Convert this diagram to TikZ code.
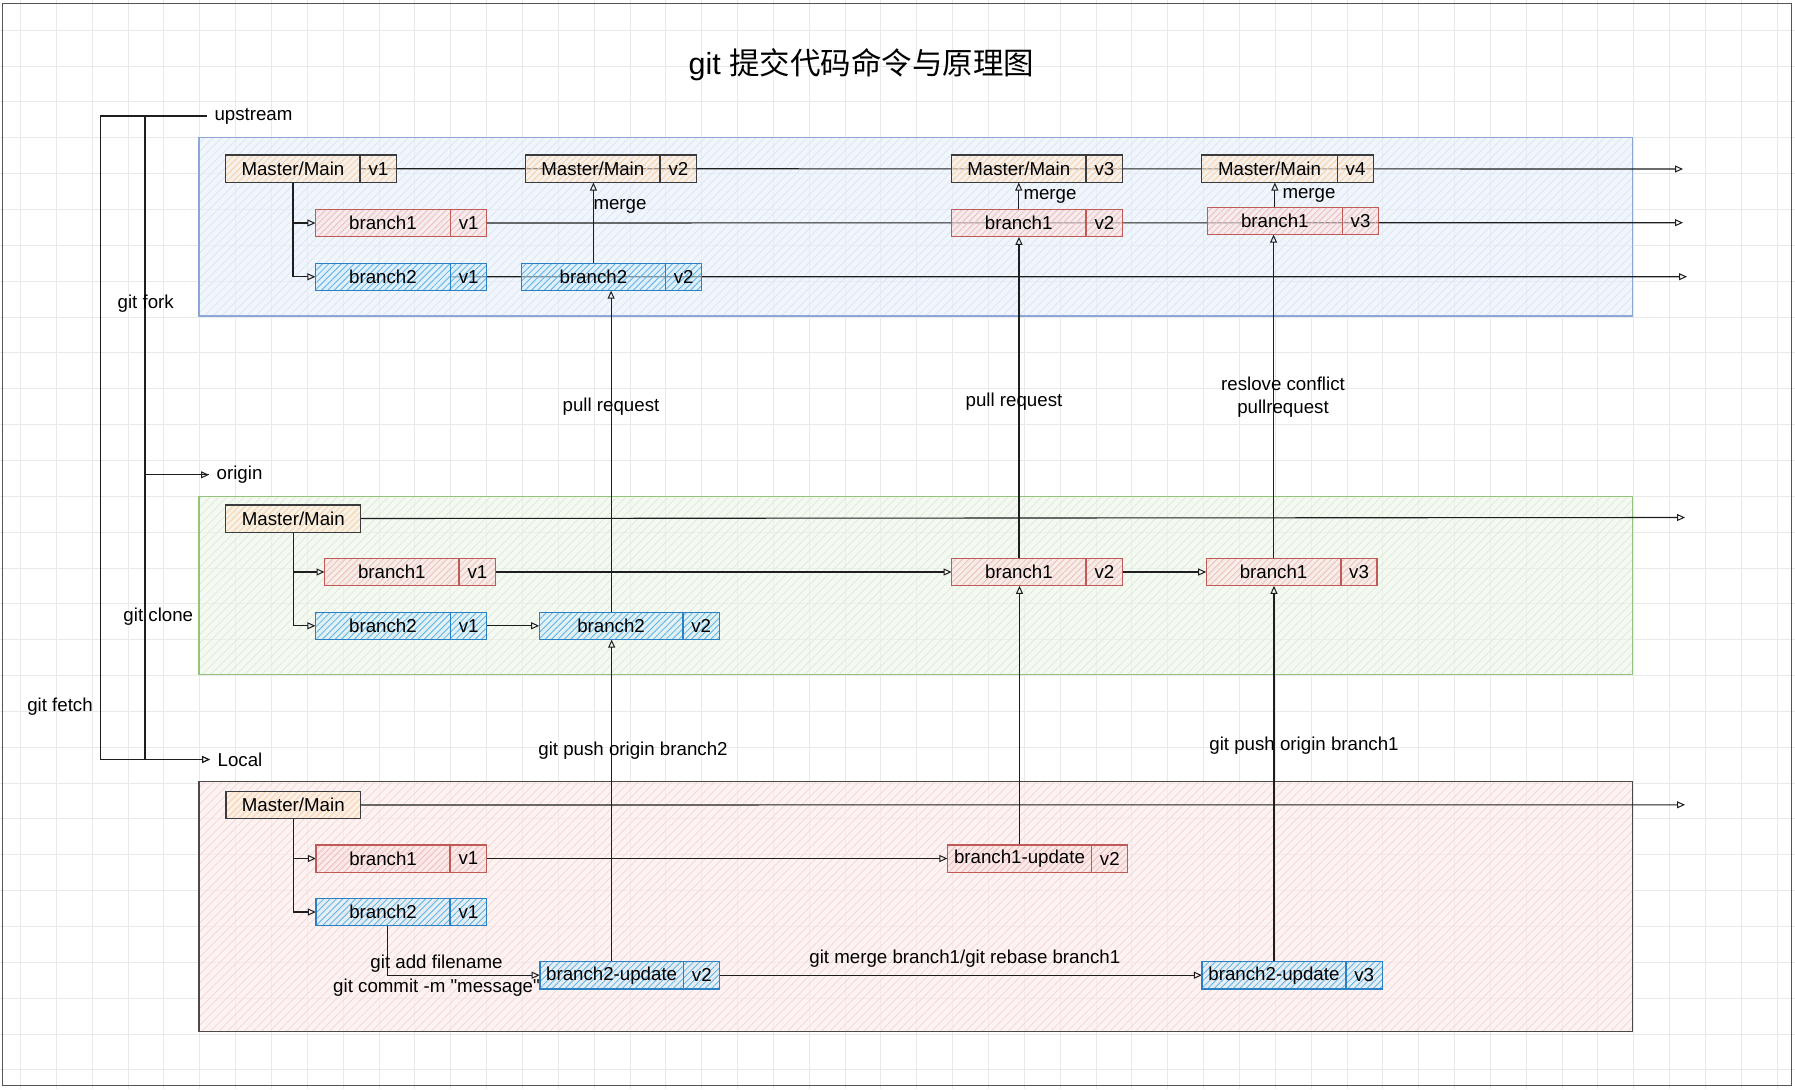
\documentclass[tikz,border=0pt]{standalone}
\usepackage{fontspec}
\setmainfont{Liberation Sans}
\newfontfamily\plainfont{Liberation Sans}
\newfontfamily\cjkfont{Noto Sans CJK SC}
\usetikzlibrary{arrows.meta,patterns.meta}
\newcommand\myfs{\fontsize{18.7}{23.3}\selectfont}
\definecolor{gridcol}{HTML}{E9E9E9}
\definecolor{edgecol}{HTML}{1E1E1E}
\definecolor{mmstroke}{HTML}{3A3B3F}
\definecolor{mmfill}{HTML}{FFF0E0}
\definecolor{mmhatch}{HTML}{F8D0A8}
\definecolor{bonestroke}{HTML}{BF5A56}
\definecolor{bonefill}{HTML}{FCE6E5}
\definecolor{bonehatch}{HTML}{F0BDBB}
\definecolor{btwostroke}{HTML}{2A80C2}
\definecolor{btwofill}{HTML}{D6EDFA}
\definecolor{btwohatch}{HTML}{5CB3E6}
\definecolor{upstroke}{HTML}{8CA7D6}
\definecolor{upfill}{HTML}{E8F0FC}
\definecolor{uphatch}{HTML}{D9E4F5}
\definecolor{orstroke}{HTML}{95C27C}
\definecolor{orfill}{HTML}{EDF5EA}
\definecolor{orhatch}{HTML}{DDE9D8}
\definecolor{lostroke}{HTML}{4A4A4A}
\definecolor{lofill}{HTML}{FDEBEB}
\definecolor{lohatch}{HTML}{F5D3D3}
\definecolor{outerstroke}{HTML}{555555}
\pgfdeclarelayer{bg}
\pgfdeclarelayer{edges}
\pgfsetlayers{bg,edges,main}
\tikzset{
  cell/.style={rectangle, inner sep=0pt, minimum height=27.3pt, anchor=west, font=\myfs, text=black, text opacity=1},
  hatchcell/.style n args={3}{cell, fill=#1, fill opacity=0.55,
    postaction={fill opacity=1, pattern={Lines[angle=45,distance=4.5pt,line width=0.85pt]}, pattern color=#2},
    postaction={draw=#3, line width=1.3pt}},
  mmcell/.style={hatchcell={mmfill}{mmhatch}{mmstroke}},
  bonecell/.style={hatchcell={bonefill}{bonehatch}{bonestroke}},
  btwocell/.style={hatchcell={btwofill}{btwohatch}{btwostroke}},
  bigbox/.style n args={3}{fill=#1, fill opacity=0.6,
    postaction={fill opacity=1, pattern={Lines[angle=45,distance=6pt,line width=0.7pt]}, pattern color=#2},
    postaction={draw=#3, line width=1.5pt}},
  lbl/.style={font=\myfs, inner sep=0pt, align=center},
  sidelbl/.style={font=\myfs, inner xsep=7.5pt, inner ysep=0pt, anchor=west},
  edge/.style={line width=1.1pt, draw=edgecol, -{Triangle[open,length=8pt,width=7pt,line width=1pt]}},
  gridline/.style={draw=gridcol, line width=0.9pt}
}
\newcommand\gitnode[7]{%
  \node[#2, minimum width=#5pt] (#1) at (#3,#4) {#6};
  \node[#2, minimum width=36pt] (#1v) at (#1.east) {#7};}
\begin{document}
\begin{tikzpicture}[x=1pt,y=-1pt]
\useasboundingbox (0,0) rectangle (1795,1089);
\begin{pgfonlayer}{bg}
  \fill[white] (0,0) rectangle (1795,1089);
  \foreach \i in {0,...,49} \draw[gridline] (20.5+35.85*\i,0) -- (20.5+35.85*\i,1089);
  \foreach \j in {0,...,29} \draw[gridline] (0,30.2+35.85*\j) -- (1795,30.2+35.85*\j);
  \draw[outerstroke, line width=1.5pt] (2.5,3.3) rectangle (1791.7,1085.5);
  \path[bigbox={upfill}{uphatch}{upstroke}] (199,137.7) rectangle (1632.3,316);
  \path[bigbox={orfill}{orhatch}{orstroke}] (199,496.5) rectangle (1632.3,674.5);
  \path[bigbox={lofill}{lohatch}{lostroke}] (199,781.7) rectangle (1632.3,1031.5);
\end{pgfonlayer}

% title
\node[font=\fontsize{30.5}{36}\selectfont, inner sep=0pt] (title) at (861.5,65) {git {\cjkfont 提交代码命令与原理图}};

% side labels
\node[sidelbl] (upstream) at (206.8,116) {upstream};
\node[sidelbl] (origin) at (209,474.8) {origin};
\node[sidelbl] (local) at (210,759.5) {Local};
\node[lbl] (lfork) at (145.7,303.3) {git fork};
\node[lbl] (lclone) at (158.3,616.7) {git clone};
\node[lbl] (lfetch) at (60,706.7) {git fetch};

% upstream
\gitnode{UM1}{mmcell}{225.6}{168.7}{134.3}{Master/Main}{v1}
\gitnode{UM2}{mmcell}{525.5}{168.7}{134.3}{Master/Main}{v2}
\gitnode{UM3}{mmcell}{951.2}{168.7}{134.7}{Master/Main}{v3}
\gitnode{UM4}{mmcell}{1201.6}{168.7}{135.4}{Master/Main}{v4}
\gitnode{UBa}{bonecell}{315.4}{223}{134.7}{branch1}{v1}
\gitnode{UBb}{bonecell}{951.2}{223}{134.7}{branch1}{v2}
\gitnode{UBc}{bonecell}{1207.3}{220.8}{134.7}{branch1}{v3}
\gitnode{UCa}{btwocell}{315.4}{276.8}{134.7}{branch2}{v1}
\gitnode{UCb}{btwocell}{521.3}{276.8}{143.8}{branch2}{v2}

% origin
\node[mmcell, minimum width=135pt] (OM) at (225.6,518.5) {Master/Main};
\gitnode{OBa}{bonecell}{324.5}{572}{134.3}{branch1}{v1}
\gitnode{OBb}{bonecell}{951.6}{572}{134.3}{branch1}{v2}
\gitnode{OBc}{bonecell}{1206.2}{572}{134.3}{branch1}{v3}
\gitnode{OCa}{btwocell}{315.4}{625.8}{134.7}{branch2}{v1}
\gitnode{OCb}{btwocell}{539.2}{625.8}{143.4}{branch2}{v2}

% local
\node[mmcell, minimum width=134.3pt] (LM) at (225.9,805) {Master/Main};
\gitnode{LBa}{bonecell}{315.9}{858.5}{133.9}{branch1}{v1}
\gitnode{LBb}{bonecell}{947.4}{858.5}{143.8}{branch1-update}{v2}
\gitnode{LCa}{btwocell}{315.9}{912}{133.9}{branch2}{v1}
\gitnode{LCb}{btwocell}{539.7}{975.2}{143.5}{branch2-update}{v2}
\gitnode{LCc}{btwocell}{1201.9}{975.2}{143.7}{branch2-update}{v3}

% edge labels
\node[lbl] (m1) at (620,206) {merge};
\node[lbl] (m2) at (1050,196.7) {merge};
\node[lbl] (m3) at (1309,195) {merge};
\node[lbl] (pr1) at (611,406.7) {pull request};
\node[lbl] (pr2) at (1014,402) {pull request};
\node[lbl] (pr3) at (1283,397.5) {reslove conflict\\pullrequest};
\node[lbl] (gp2) at (633,751) {git push origin branch2};
\node[lbl] (gp1) at (1304,746) {git push origin branch1};
\node[lbl, font=\plainfont\myfs] (gadd) at (436.5,975.6) {git add filename\\git commit -m "message"};
\node[lbl] (gmerge) at (964.8,958.3) {git merge branch1/git rebase branch1};

\coordinate (eU1) at (1683,169);
\coordinate (eU2) at (1683,222.7);
\coordinate (eU3) at (1687,276.7);
\coordinate (eO) at (1685,517.5);
\coordinate (eL) at (1685,804.8);

\begin{pgfonlayer}{edges}
  % left bracket
  \draw[edge] (upstream.west) -- ++(-61.8,0) |- (origin.west);
  \draw[edge] (upstream.west) -- ++(-106,0) |- (local.west);
  \draw[edge] (origin.west) -- ++(-64,0) |- (local.west);
  % upstream
  \draw[edge] (UM1.east) -- (eU1);
  \draw[edge] (UBav.east) -- (eU2);
  \draw[edge] (UCa.east) -- (eU3);
  \draw[edge] (UM1.south) |- (UBa.west);
  \draw[edge] (UM1.south) |- (UCa.west);
  \draw[edge] (UCb.north) -- (UCb.north |- UM2.south);
  \draw[edge] (UBb.north) -- (UBb.north |- UM3.south);
  \draw[edge] (UBc.north) -- (UBc.north |- UM4.south);
  % origin to upstream
  \draw[edge] (OCb.north) -- (OCb.north |- UCb.south);
  \draw[edge] (OBb.north) -- (OBb.north |- UBb.south);
  \draw[edge] (OBc.north) -- (OBc.north |- UBc.south);
  % origin
  \draw[edge] (OM.east) -- (eO);
  \draw[edge] (OM.south) |- (OBa.west);
  \draw[edge] (OM.south) |- (OCa.west);
  \draw[edge] (OBav.east) -- (OBb.west);
  \draw[edge] (OBbv.east) -- (OBc.west);
  \draw[edge] (OCav.east) -- (OCb.west);
  % local
  \draw[edge] (LM.east) -- (eL);
  \draw[edge] (LM.south) |- (LBa.west);
  \draw[edge] (LM.south) |- (LCa.west);
  \draw[edge] (LBav.east) -- (LBb.west);
  \draw[edge] ([xshift=4pt]LCa.south) |- (LCb.west);
  \draw[edge] (LCbv.east) -- (LCc.west);
  % local to origin
  \draw[edge] (LCb.north) -- (LCb.north |- OCb.south);
  \draw[edge] (LBb.north) -- (LBb.north |- OBb.south);
  \draw[edge] (LCc.north) -- (LCc.north |- OBc.south);
\end{pgfonlayer}
\end{tikzpicture}
\end{document}
